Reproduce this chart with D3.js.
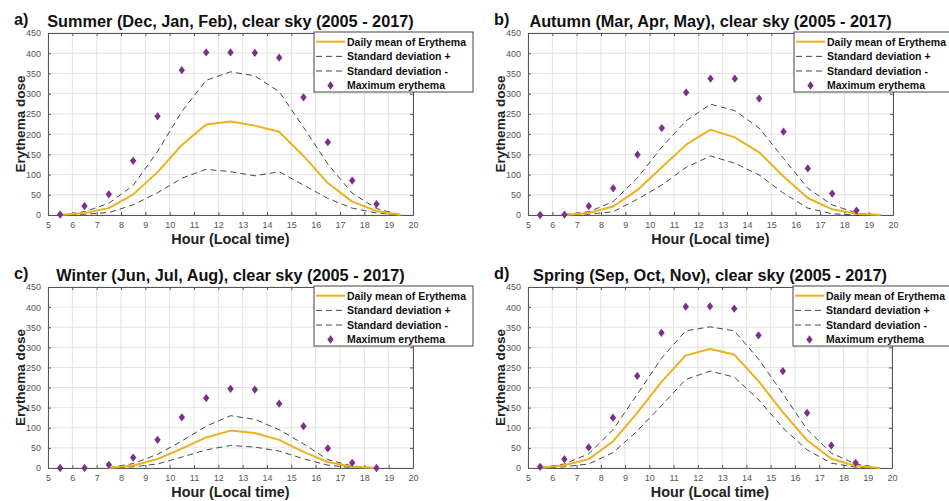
<!DOCTYPE html>
<html>
<head>
<meta charset="utf-8">
<script src="https://cdn.jsdelivr.net/npm/d3@7"></script>
<style>
  html, body { margin: 0; padding: 0; background: #fff; }
  svg { display: block; font-family: "Liberation Sans", Arial, sans-serif; }
</style>
</head>
<body>
<svg id="chart" width="949" height="501"></svg>
<script>
// Hour of day (local time), centre of each hourly bin
const hours = [5.5, 6.5, 7.5, 8.5, 9.5, 10.5, 11.5, 12.5, 13.5, 14.5, 15.5, 16.5, 17.5, 18.5, 19.5];

// Summer (Dec, Jan, Feb)
const summerMean    = [0, 5, 17, 51, 106, 173, 224, 231, 221, 206, 146, 79, 33, 10, 0];
const summerSdPlus  = [0, 8, 29, 73, 157, 256, 333, 354, 344, 305, 217, 126, 54, 16, 0];
const summerSdMinus = [0, 2, 6, 25, 55, 91, 113, 107, 97, 107, 74, 41, 17, 5, 0];
const summerMax     = [1, 22, 51, 134, 244, 358, 402, 402, 401, 389, 291, 180, 85, 27, null];

// Autumn (Mar, Apr, May)
const autumnMean    = [null, 0, 5, 21, 62, 118, 174, 211, 192, 155, 95, 42, 14, 3, 0];
const autumnSdPlus  = [null, 1, 8, 33, 92, 168, 233, 274, 258, 215, 140, 66, 25, 5, 0];
const autumnSdMinus = [null, 0, 2, 8, 39, 74, 118, 146, 128, 99, 54, 17, 3, 0, 0];
const autumnMax     = [0, 1, 22, 66, 149, 215, 303, 337, 337, 288, 206, 115, 53, 11, null];

// Winter (Jun, Jul, Aug)
const winterMean    = [null, null, 0, 6, 22, 48, 76, 93, 87, 70, 40, 15, 3, 0, null];
const winterSdPlus  = [null, null, 1, 11, 34, 67, 104, 130, 121, 95, 60, 21, 5, 0, null];
const winterSdMinus = [null, null, 0, 3, 10, 27, 45, 56, 52, 42, 23, 7, 1, 0, null];
const winterMax     = [0, 0, 8, 26, 70, 126, 174, 197, 195, 160, 104, 49, 13, 0, null];

// Spring (Sep, Oct, Nov)
const springMean    = [0, 7, 22, 66, 137, 214, 280, 296, 282, 216, 139, 69, 23, 5, 0];
const springSdPlus  = [0, 10, 35, 95, 183, 273, 341, 351, 341, 271, 185, 96, 37, 10, 0];
const springSdMinus = [0, 3, 10, 38, 92, 155, 220, 241, 226, 170, 100, 45, 12, 2, 0];
const springMax     = [3, 22, 51, 125, 229, 336, 401, 402, 396, 330, 241, 137, 56, 13, null];

// Axis ticks
const xTicks = d3.range(5, 21, 1);
const yTicks = d3.range(0, 451, 50);

const panelLabels = ["a)", "b)", "c)", "d)"];
const panelTitles = [
  "Summer (Dec, Jan, Feb), clear sky (2005 - 2017)",
  "Autumn (Mar, Apr, May), clear sky (2005 - 2017)",
  "Winter (Jun, Jul, Aug), clear sky (2005 - 2017)",
  "Spring (Sep, Oct, Nov), clear sky (2005 - 2017)"
];
const legendLabels = ["Daily mean of Erythema", "Standard deviation +", "Standard deviation -", "Maximum erythema"];

const seriesByPanel = [
  { mean: summerMean, plus: summerSdPlus, minus: summerSdMinus, max: summerMax },
  { mean: autumnMean, plus: autumnSdPlus, minus: autumnSdMinus, max: autumnMax },
  { mean: winterMean, plus: winterSdPlus, minus: winterSdMinus, max: winterMax },
  { mean: springMean, plus: springSdPlus, minus: springSdMinus, max: springMax }
];

// Plot-area frames for the 2x2 grid
const frames = [
  { left: 48,  top: 33,  width: 365, height: 182 },
  { left: 528, top: 33,  width: 365, height: 182 },
  { left: 48,  top: 287, width: 365, height: 181 },
  { left: 528, top: 287, width: 364, height: 181 }
];

const COLORS = { mean: "#EDB120", sd: "#333333", max: "#7E2F8E", grid: "#e3e3e3", axis: "#555555", tick: "#555555" };

// Square-diamond marker (rotated square, slightly taller than wide)
const diamondType = {
  draw(ctx, size) {
    const r = Math.sqrt(size) * 0.62625;
    ctx.moveTo(0, -r * 1.1);
    ctx.lineTo(r * 0.85, 0);
    ctx.lineTo(0, r * 1.1);
    ctx.lineTo(-r * 0.85, 0);
    ctx.closePath();
  }
};
const diamond = d3.symbol().type(diamondType).size(36);

const svg = d3.select("#chart");

frames.forEach((f, i) => {
  const s = seriesByPanel[i];
  const x = d3.scaleLinear().domain([5, 20]).range([f.left, f.left + f.width]);
  const y = d3.scaleLinear().domain([0, 450]).range([f.top + f.height, f.top]);
  const g = svg.append("g");

  // grid
  g.append("g").selectAll("line.vx").data(xTicks).join("line")
    .attr("x1", d => x(d)).attr("x2", d => x(d))
    .attr("y1", f.top).attr("y2", f.top + f.height)
    .attr("stroke", COLORS.grid).attr("stroke-width", 1);
  g.append("g").selectAll("line.hy").data(yTicks).join("line")
    .attr("x1", f.left).attr("x2", f.left + f.width)
    .attr("y1", d => y(d)).attr("y2", d => y(d))
    .attr("stroke", COLORS.grid).attr("stroke-width", 1);

  // axes (ticks pointing inward, mirrored on the opposite side)
  const bottom = g.append("g").attr("transform", `translate(0,${f.top + f.height})`)
    .call(d3.axisBottom(x).tickValues(xTicks).tickSizeInner(-3).tickSizeOuter(0).tickPadding(7));
  const top = g.append("g").attr("transform", `translate(0,${f.top})`)
    .call(d3.axisTop(x).tickValues(xTicks).tickSizeInner(-3).tickSizeOuter(0).tickFormat(""));
  const left = g.append("g").attr("transform", `translate(${f.left},0)`)
    .call(d3.axisLeft(y).tickValues(yTicks).tickSizeInner(-3).tickSizeOuter(0).tickPadding(7));
  const right = g.append("g").attr("transform", `translate(${f.left + f.width},0)`)
    .call(d3.axisRight(y).tickValues(yTicks).tickSizeInner(-3).tickSizeOuter(0).tickFormat(""));
  [bottom, top, left, right].forEach(a => {
    a.select(".domain").attr("stroke", COLORS.axis).attr("stroke-width", 1);
    a.selectAll(".tick line").attr("stroke", COLORS.axis);
    a.selectAll(".tick text").attr("fill", COLORS.tick)
      .style("font-size", "9px").style("font-family", '"Liberation Sans", Arial, sans-serif');
  });

  // series lines
  const line = d3.line()
    .defined((d, k) => d != null)
    .x((d, k) => x(hours[k]))
    .y(d => y(d));

  g.append("path").datum(s.plus).attr("d", line)
    .attr("fill", "none").attr("stroke", COLORS.sd).attr("stroke-width", 0.9)
    .attr("stroke-dasharray", "6,4");
  g.append("path").datum(s.minus).attr("d", line)
    .attr("fill", "none").attr("stroke", COLORS.sd).attr("stroke-width", 0.9)
    .attr("stroke-dasharray", "6,4");
  g.append("path").datum(s.mean).attr("d", line)
    .attr("fill", "none").attr("stroke", COLORS.mean).attr("stroke-width", 2)
    .attr("stroke-linejoin", "round");

  // maximum erythema markers
  g.append("g").selectAll("path")
    .data(hours.map((h, k) => ({ h, v: s.max[k] })).filter(d => d.v != null))
    .join("path")
    .attr("d", diamond)
    .attr("transform", d => `translate(${x(d.h)},${y(d.v)})`)
    .attr("fill", COLORS.max);

  // titles
  g.append("text")
    .attr("x", f.left + f.width / 2).attr("y", f.top - 6.5)
    .attr("text-anchor", "middle")
    .style("font-size", "16.3px").style("font-weight", "bold").attr("fill", "#111")
    .text(panelTitles[i]);
  g.append("text")
    .attr("x", f.left - 34).attr("y", f.top - 8)
    .style("font-size", "16.3px").style("font-weight", "bold").attr("fill", "#111")
    .text(panelLabels[i]);

  // axis labels
  g.append("text")
    .attr("transform", `translate(${f.left - 23},${f.top + f.height / 2}) rotate(-90)`)
    .attr("text-anchor", "middle")
    .style("font-size", "13.5px").style("font-weight", "bold").attr("fill", "#222")
    .text("Erythema dose");
  g.append("text")
    .attr("x", f.left + f.width / 2).attr("y", f.top + f.height + 29)
    .attr("text-anchor", "middle")
    .style("font-size", "14.4px").style("font-weight", "bold").attr("fill", "#222")
    .text("Hour (Local time)");

  // legend
  const lx = f.left + f.width - 99, ly = f.top - 1;
  const lg = g.append("g").attr("transform", `translate(${lx},${ly})`);
  lg.append("rect").attr("x", 0).attr("y", 0).attr("width", 159).attr("height", 60)
    .attr("fill", "#fff").attr("stroke", "#444").attr("stroke-width", 1);
  const rows = [9.7, 24.4, 39, 53.5];
  lg.append("line").attr("x1", 2).attr("x2", 31).attr("y1", rows[0]).attr("y2", rows[0])
    .attr("stroke", COLORS.mean).attr("stroke-width", 2);
  [1, 2].forEach(r => {
    lg.append("line").attr("x1", 2).attr("x2", 31).attr("y1", rows[r]).attr("y2", rows[r])
      .attr("stroke", COLORS.sd).attr("stroke-width", 0.9).attr("stroke-dasharray", "6,4");
  });
  lg.append("path").attr("d", diamond).attr("transform", `translate(16.5,${rows[3]})`)
    .attr("fill", COLORS.max);
  lg.selectAll("text.leg").data(legendLabels).join("text")
    .attr("x", 33).attr("y", (d, k) => rows[k] + 3.8)
    .style("font-size", "10.5px").style("font-weight", "bold").attr("fill", "#111")
    .text(d => d);
});
</script>
</body>
</html>
